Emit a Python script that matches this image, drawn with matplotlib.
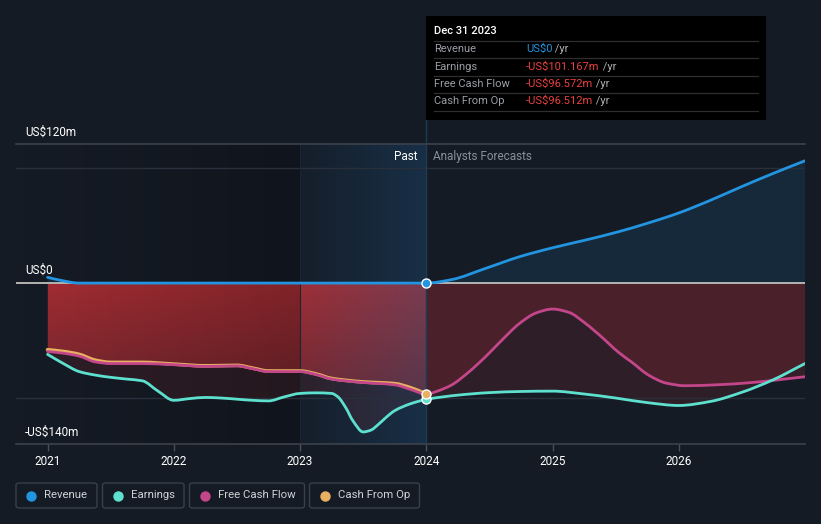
import matplotlib.pyplot as plt
import numpy as np
from matplotlib.patches import FancyBboxPatch, Rectangle, PathPatch
from matplotlib.lines import Line2D
from matplotlib.path import Path
from matplotlib.text import Annotation

plt.rcParams['font.family'] = ['Roboto', 'DejaVu Sans']

# data (US$m)
years = [2021, 2022, 2023, 2024, 2025, 2026]

rev_x = [2021.0, 2021.1, 2021.25, 2022.0, 2023.0, 2024.0, 2024.2, 2024.47, 2024.74, 2025.0,
         2025.26, 2025.52, 2025.75, 2026.0, 2026.25, 2026.5, 2026.75, 2027.0]
rev_v = [5, 2.5, 0, 0, 0, 0, 3, 12.8, 23, 30.7,
         37.4, 44.6, 52, 61, 72, 84, 95.5, 106.4]

earn_x = [2021.0, 2021.125, 2021.25, 2021.375, 2021.5, 2021.625, 2021.75, 2021.875, 2022.0,
          2022.125, 2022.25, 2022.375, 2022.5, 2022.625, 2022.75, 2022.875, 2023.0, 2023.125,
          2023.25, 2023.3, 2023.36, 2023.42, 2023.5, 2023.56, 2023.62, 2023.68, 2023.75,
          2023.875, 2024.0, 2024.25, 2024.5, 2024.75, 2025.0, 2025.25, 2025.5, 2025.75,
          2026.0, 2026.25, 2026.5, 2026.75, 2027.0]
earn_v = [-62, -70, -77, -80, -82, -83.5, -85, -94, -102,
          -100.5, -99.5, -100, -101, -102, -102.5, -99, -96, -95.5,
          -96, -99, -108, -120, -129.5, -128, -123, -117, -111,
          -105, -101.2, -97.5, -95.3, -94.3, -94, -96.5, -100, -104,
          -106.5, -103, -95, -84, -70]

cfo_x = [2021.0, 2021.125, 2021.25, 2021.375, 2021.5, 2021.75, 2022.0, 2022.25, 2022.5,
         2022.625, 2022.75, 2023.0, 2023.125, 2023.25, 2023.5, 2023.75, 2023.875, 2024.0]
cfo_v = [-58, -59.5, -62, -67, -69, -69, -70.5, -72, -71.6,
         -74, -76.5, -76.5, -79, -83, -86, -87.5, -91, -96.5]

fcf_x = cfo_x + [2024.1, 2024.2, 2024.33, 2024.47, 2024.6, 2024.74, 2024.87, 2025.0, 2025.13,
                 2025.26, 2025.39, 2025.52, 2025.63, 2025.76, 2025.9, 2026.05, 2026.3, 2026.56,
                 2027.0]
fcf_v = [-59.5, -61, -63.5, -68.5, -70, -70, -71, -72.5, -72,
         -74.5, -77, -77, -79.5, -83.5, -86.5, -88.5, -92.5, -96.6,
         -93.5, -88.7, -78, -64, -49.5, -35, -26, -22.6, -25.5,
         -35, -47, -60, -69, -80, -87, -89.3, -88.5, -86.7,
         -81.5]

BG = '#151b25'
C_REV = '#2394df'
C_EARN = '#5ee0cf'
C_FCF = '#c4468a'
C_CFO = '#e8b060'
RED = (0.80, 0.20, 0.22)


def curve(x, y, close=False):
    # monotone cubic through the points, drawn as bezier segments
    x = np.asarray(x, float)
    y = np.asarray(y, float)
    h = np.diff(x)
    d = np.diff(y) / h
    m = np.zeros_like(y)
    m[0], m[-1] = d[0], d[-1]
    for i in range(1, len(x) - 1):
        if d[i - 1] * d[i] > 0:
            w1, w2 = 2 * h[i] + h[i - 1], h[i] + 2 * h[i - 1]
            m[i] = (w1 + w2) / (w1 / d[i - 1] + w2 / d[i])
    verts = [(x[0], y[0])]
    codes = [Path.MOVETO]
    for i in range(len(x) - 1):
        verts += [(x[i] + h[i] / 3, y[i] + m[i] * h[i] / 3),
                  (x[i + 1] - h[i] / 3, y[i + 1] - m[i + 1] * h[i] / 3),
                  (x[i + 1], y[i + 1])]
        codes += [Path.CURVE4] * 3
    if close:
        verts += [(x[-1], 0), (x[0], 0), (x[0], y[0])]
        codes += [Path.LINETO, Path.LINETO, Path.CLOSEPOLY]
    return Path(verts, codes)


W, H = 821, 524
fig = plt.figure(figsize=(W / 100, H / 100), dpi=100, facecolor=BG)
ax = fig.add_axes([16 / W, 1 - 444 / H, 789 / W, 300 / H])
ax.set_facecolor(BG)
X0, X1, Y0, Y1 = 2020.75, 2027.0, -140, 121

# fills
ax.add_patch(PathPatch(curve(rev_x, rev_v, True), facecolor=C_REV, alpha=0.12, lw=0, zorder=1))
ax.add_patch(PathPatch(curve(earn_x, earn_v, True), facecolor=RED, alpha=0.14, lw=0, zorder=1))
ax.add_patch(PathPatch(curve(fcf_x, fcf_v, True), facecolor=RED, alpha=0.18, lw=0, zorder=1))
cfo_patch = PathPatch(curve(cfo_x, cfo_v, True), facecolor='none', lw=0, zorder=1)
ax.add_patch(cfo_patch)
grad = np.zeros((64, 1, 4))
grad[:, 0, :3] = RED
grad[:, 0, 3] = np.linspace(0.7, 0.3, 64)
im = ax.imshow(grad, extent=[2021, 2024, -100, 0], aspect='auto', zorder=1.2,
               interpolation='bilinear')
im.set_clip_path(cfo_patch)

# past shading (dark) and last-year highlight band
dark = np.zeros((1, 64, 4))
dark[0, :, 3] = np.linspace(0.0, 0.22, 64)
ax.imshow(dark, extent=[X0, 2023, Y0, Y1], aspect='auto', zorder=2, interpolation='bilinear')
band = np.zeros((1, 64, 4))
band[0, :, :3] = (0.12, 0.36, 0.56)
band[0, :, 3] = np.linspace(0.05, 0.32, 64)
ax.imshow(band, extent=[2023, 2024, Y0, Y1], aspect='auto', zorder=2, interpolation='bilinear')

# grid and reference lines
for g in (100, -100):
    ax.axhline(g, color='#2a303b', lw=1, zorder=2.2)
ax.axhline(0, color='#b4b4b4', lw=1.4, zorder=2.4)
ax.plot([2023, 2023], [Y0, Y1], color='#1a2634', lw=0.8, zorder=2.2)
ax.plot([2024, 2024], [Y0, 142], color='#1d3b54', lw=1, zorder=2.3, clip_on=False)

# series lines
lw = 2.0
for xs, vs, c, z, w in ((cfo_x, cfo_v, C_CFO, 3, lw + 0.6), (fcf_x, fcf_v, C_FCF, 3.1, lw),
                        (earn_x, earn_v, C_EARN, 3.2, lw), (rev_x, rev_v, C_REV, 3.3, lw)):
    ax.add_patch(PathPatch(curve(xs, vs), facecolor='none', edgecolor=c, lw=w, zorder=z,
                           capstyle='round', joinstyle='round'))

for v, c in ((earn_v[earn_x.index(2024.0)], C_EARN), (cfo_v[-1], C_CFO), (0, C_REV)):
    ax.plot([2024], [v], 'o', ms=6.5, mfc=c, mec='white', mew=1, zorder=4, clip_on=False)

ax.set_xlim(X0, X1)
ax.set_ylim(Y0, Y1)
for k, s in ax.spines.items():
    s.set_visible(k in ('bottom', 'top'))
    s.set_color('#3c424c')
    s.set_linewidth(1.2)
ax.set_yticks([])
ax.set_xticks(years)
ax.set_xticklabels([str(y) for y in years])
ax.tick_params(axis='x', colors='#4a505a', length=5, width=1, labelcolor='white',
               labelsize=8.5, pad=3)

# axis value labels
ax.text(2020.82, (283 - 132) / 1.15, 'US$120m', color='white', fontsize=8.5, va='center', clip_on=False)
ax.text(2020.82, (283 - 270) / 1.15, 'US$0', color='white', fontsize=8.5, va='center')
ax.text(2020.82, (283 - 432) / 1.15, '-US$140m', color='white', fontsize=8.5, va='center')
ax.text(2023.93, 110.4, 'Past', color='white', fontsize=8.5, ha='right', va='center', zorder=5)
ax.text(2024.056, 110.4, 'Analysts Forecasts', color='#8a9099', fontsize=8.5, va='center', zorder=5)


def fx(px):
    return px / W


def fy(py):
    return 1 - py / H


# tooltip
fig.patches.append(Rectangle((fx(426), fy(120)), fx(766) - fx(426), fy(16) - fy(120),
                             transform=fig.transFigure, facecolor='black', edgecolor='none',
                             zorder=10))
fig.text(fx(434), fy(31), 'Dec 31 2023', color='white', fontsize=8, va='center',
         fontweight='medium', zorder=11)
for ly in (41, 58.3, 76, 93.3, 111):
    fig.add_artist(Line2D([fx(434), fx(758)], [fy(ly), fy(ly)], color='#2e2e2e', lw=0.9,
                          transform=fig.transFigure, zorder=11))
rows = [('Revenue', 'US$0', C_REV), ('Earnings', '-US$101.167m', '#e8413f'),
        ('Free Cash Flow', '-US$96.572m', '#e8413f'), ('Cash From Op', '-US$96.512m', '#e8413f')]
for (lab, val, col), ry in zip(rows, (49.3, 66.7, 84, 101.3)):
    fig.text(fx(434), fy(ry), lab, color='#9a9ea5', fontsize=8, va='center', zorder=11)
    t = fig.text(fx(526), fy(ry), val, color=col, fontsize=8, va='center', zorder=11)
    a = Annotation(' /yr', xy=(1, 0.5), xycoords=t, color='#b0b0b0', fontsize=8,
                   va='center', ha='left', annotation_clip=False)
    a.set_zorder(12)
    fig.add_artist(a)

# legend boxes
legend = [('Revenue', C_REV, 16, 97), ('Earnings', C_EARN, 102.5, 184),
          ('Free Cash Flow', C_FCF, 189.5, 304.5), ('Cash From Op', C_CFO, 309.5, 419.5)]
for lab, col, x0, x1 in legend:
    fig.patches.append(FancyBboxPatch((fx(x0), fy(508)), fx(x1) - fx(x0), fy(483) - fy(508),
                                      boxstyle='round,pad=0,rounding_size=0.004',
                                      transform=fig.transFigure, facecolor='none',
                                      edgecolor='#3a404a', lw=1))
    fig.add_artist(Line2D([fx(x0 + 15)], [fy(495.5)], marker='o', ms=6.5, color=col,
                          transform=fig.transFigure))
    fig.text(fx(x0 + 28), fy(495.5), lab, color='#cfd3d8', fontsize=8.2, va='center')

fig.savefig('out.png', dpi=100, facecolor=BG)
